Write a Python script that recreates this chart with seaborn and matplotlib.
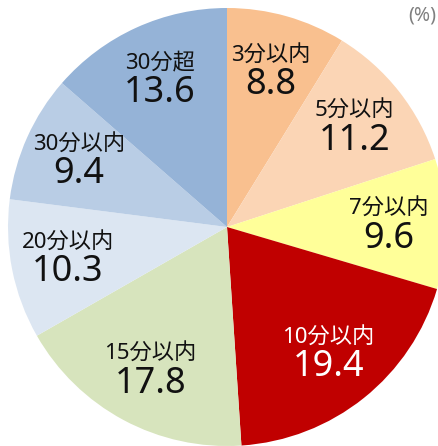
import numpy as np
import matplotlib
matplotlib.use("Agg")
import matplotlib.pyplot as plt
import seaborn as sns

categories = ["3分以内", "5分以内", "7分以内", "10分以内", "15分以内", "20分以内", "30分以内", "30分超"]
values = [8.8, 11.2, 9.6, 19.4, 17.8, 10.3, 9.4, 13.6]
value_labels = ["8.8", "11.2", "9.6", "19.4", "17.8", "10.3", "9.4", "13.6"]
colors = ["#F9C08F", "#FBD5B5", "#FFFF99", "#C00000", "#D7E4BD", "#DCE6F2", "#B9CDE5", "#95B3D7"]
text_colors = ["#111111"] * 3 + ["#FFFFFF"] + ["#111111"] * 4

sns.set_theme(style="white")
plt.rcParams['font.family'] = ['Noto Sans', 'Noto Sans CJK JP', 'DejaVu Sans']

W, H = 438, 446
fig = plt.figure(figsize=(W / 100, H / 100), dpi=100)
fig.patch.set_facecolor("white")
R = 219
cx, cy = 227, 227
ax = fig.add_axes([(cx - R) / W, (H - cy - R) / H, 2 * R / W, 2 * R / H])
wedges, _ = ax.pie(values, colors=colors, startangle=90, counterclock=False,
                   radius=1.0, wedgeprops=dict(linewidth=0))
ax.set_xlim(-1, 1)
ax.set_ylim(-1, 1)
ax.set_aspect("equal")
ax.axis("off")

for w, cat, vl, tc in zip(wedges, categories, value_labels, text_colors):
    ang = np.deg2rad((w.theta1 + w.theta2) / 2)
    r = 0.74
    x, y = r * np.cos(ang), r * np.sin(ang)
    ax.annotate(cat, (x, y), xytext=(0, 11), textcoords="offset points",
                ha="center", va="center", fontsize=16, color=tc)
    ax.annotate(vl, (x, y), xytext=(0, -10), textcoords="offset points",
                ha="center", va="center", fontsize=26, color=tc)

fig.text(422 / W, 1 - 16 / H, "(%)", ha="center", va="center", fontsize=14, color="#808080")

fig.savefig("out.png", dpi=100)
